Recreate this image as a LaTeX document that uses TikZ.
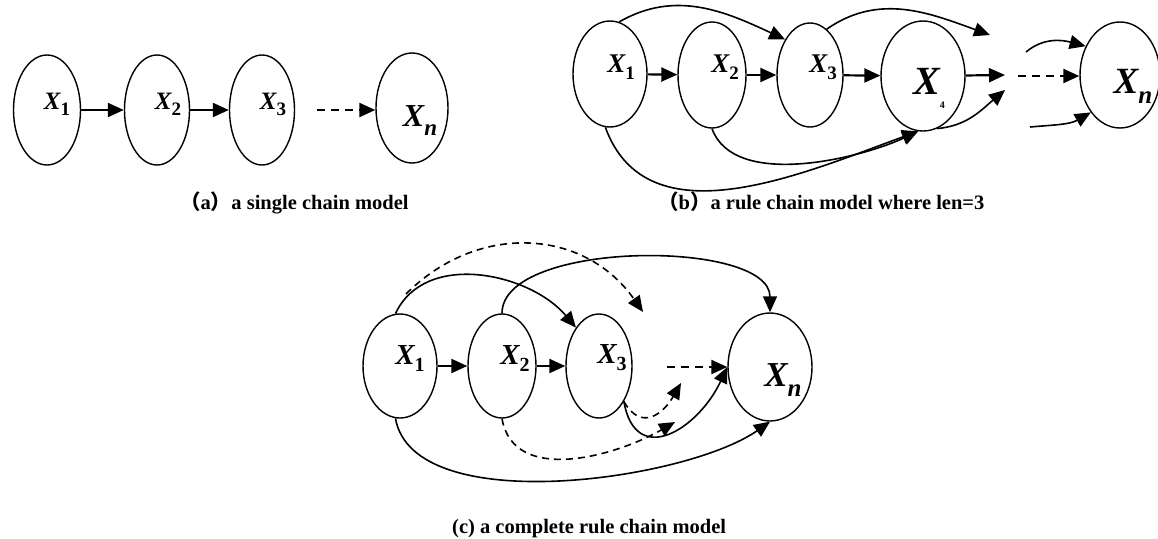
\documentclass[tikz,border=0pt]{standalone}
\usepackage{fontspec}
\setmainfont{Liberation Serif}
\newfontfamily\cjk{Noto Sans CJK SC}
\usetikzlibrary{arrows.meta,shapes.geometric}
\tikzset{
  var/.style={draw,ellipse,line width=1.4pt,inner sep=0pt},
  head/.style={-{Triangle[length=16pt,width=14pt]}},
  fwd/.style={head,line width=2.2pt},
  dfwd/.style={fwd,dash pattern=on 8pt off 6pt},
  jump/.style={head,line width=1.6pt},
  djump/.style={jump,dash pattern=on 7pt off 5pt},
  vlab/.style={inner sep=0pt},
  subcap/.style={anchor=base west,inner sep=0pt,font=\fontsize{20.5}{24}\selectfont\bfseries},
}
% X with a subscript: X size, subscript size, drop, subscript
\newcommand{\xvar}[4]{{\fontsize{#1}{#1}\selectfont\bfseries\itshape X}\raisebox{-#3}{\fontsize{#2}{#2}\selectfont\bfseries #4}}

\begin{document}
\begin{tikzpicture}[x=1pt,y=1pt]
  \useasboundingbox (0,0) rectangle (1158,-538);

  % (a) single chain
  \node[var,minimum width=67pt,minimum height=110pt] (a1) at (47,-110) {};
  \node[var,minimum width=65pt,minimum height=110pt] (a2) at (157,-110) {};
  \node[var,minimum width=65pt,minimum height=110pt] (a3) at (262,-110) {};
  \node[var,minimum width=72pt,minimum height=110pt] (an) at (412,-108) {};
  \node[vlab] (a1x) at ([shift={(10,6)}]a1) {\xvar{25}{19}{6pt}{1}};
  \node[vlab] (a2x) at ([shift={(11,6)}]a2) {\xvar{25}{19}{6pt}{2}};
  \node[vlab] (a3x) at ([shift={(11,6)}]a3) {\xvar{25}{19}{6pt}{3}};
  \node[vlab] (anx) at ([shift={(8,-13)}]an) {\xvar{32}{23}{9pt}{\itshape n}};
  \coordinate (a3d) at (317,-110);
  \draw[fwd] (a1) -- (a2);
  \draw[fwd] (a2) -- (a3);
  \draw[dfwd] (a3d) -- (a3d -| an.west);
  \node[subcap] (acap) at (180,-209) {{\cjk （}a{\cjk ）}a single chain model};

  % (b) rule chain, len=3
  \node[var,minimum width=74pt,minimum height=106pt] (b1) at (610,-74) {};
  \node[var,minimum width=68pt,minimum height=106pt] (b2) at (712,-75) {};
  \node[var,minimum width=66pt,minimum height=104pt] (b3) at (810,-75) {};
  \node[var,minimum width=84pt,minimum height=110pt] (b4) at (923,-76) {};
  \node[var,minimum width=80pt,minimum height=106pt] (bn) at (1120,-75) {};
  \node[vlab] (b1x) at ([shift={(11,7)}]b1) {\xvar{27}{19}{7pt}{1}};
  \node[vlab] (b2x) at ([shift={(13,8)}]b2) {\xvar{27}{19}{7pt}{2}};
  \node[vlab] (b3x) at ([shift={(13,8)}]b3) {\xvar{27}{19}{7pt}{3}};
  \node[vlab] (b4x) at ([shift={(6,-12)}]b4) {\xvar{40}{10}{14pt}{4}};
  \node[vlab] (bnx) at ([shift={(13,-11)}]bn) {\xvar{37}{25}{10pt}{\itshape n}};
  \coordinate (bq) at (1005,-75);
  \coordinate (bd) at (1018,-76);
  \coordinate (bt) at (990,-35);
  \coordinate (bu) at (1026,-52);
  \coordinate (bl) at (1030,-127);
  \coordinate (bv) at (1005,-90);
  \draw[fwd] (b1) -- (b2);
  \draw[fwd] (b2) -- (b3);
  \draw[fwd] (b3) -- (b4);
  \draw[fwd] (b4) -- (bq);
  \draw[dfwd] (bd) -- (bd -| bn.west);
  \draw[jump] (b1.80) to[out=30,in=155] (b3.125);
  \draw[jump] (b3.70) to[out=35,in=160] (bt);
  \draw[jump] (b4.285) to[out=5,in=220] (bv);
  \draw[jump] (bu) to[out=40,in=165] (bn.140);
  \draw[jump] (bl) to[out=5,in=210] (bn.232);
  \draw[jump] (b2.south) to[out=-70,in=205,looseness=0.8] (b4.265);
  \draw[jump] (b1.265) to[out=-70,in=200] (b4.265);
  \node[subcap] (bcap) at (658,-209) {{\cjk （}b{\cjk ）}a rule chain model where len=3};

  % (c) complete rule chain
  \node[var,minimum width=74pt,minimum height=104pt] (c1) at (400,-366) {};
  \node[var,minimum width=68pt,minimum height=104pt] (c2) at (502,-366) {};
  \node[var,minimum width=66pt,minimum height=104pt] (c3) at (599,-366) {};
  \node[var,minimum width=84pt,minimum height=108pt] (cn) at (770,-367) {};
  \node[vlab] (c1x) at ([shift={(10,8)}]c1) {\xvar{29}{20}{7pt}{1}};
  \node[vlab] (c2x) at ([shift={(13,8)}]c2) {\xvar{29}{20}{7pt}{2}};
  \node[vlab] (c3x) at ([shift={(13,8)}]c3) {\xvar{29}{20}{7pt}{3}};
  \node[vlab] (cnx) at ([shift={(13,-13)}]cn) {\xvar{35}{25}{10pt}{\itshape n}};
  \coordinate (cd) at (667,-367);
  \coordinate (cs) at (406,-294);
  \coordinate (ct) at (643,-312);
  \coordinate (cw) at (681,-383);
  \coordinate (cz) at (675,-422);
  \draw[fwd] (c1) -- (c2);
  \draw[fwd] (c2) -- (c3);
  \draw[dfwd] (cd) -- (cd -| cn.west);
  % jumps over the chain
  \draw[jump] (c1.95) to[out=65,in=130] (c3.121);
  \draw[djump] (cs) to[out=45,in=125,looseness=1.1] (ct);
  \draw[jump] (c2.north) to[out=90,in=90,looseness=0.7] (cn.north);
  % jumps under the chain
  \draw[jump] (c3.305) to[out=-80,in=245,looseness=1.6] (cn.west);
  \draw[djump] (c3.305) to[out=-60,in=240,looseness=1.5] (cw);
  \draw[djump] (c2.south) to[out=-80,in=210] (cz);
  \draw[jump] (c1.265) to[out=-80,in=215,looseness=0.7] (cn.south);
  \node[subcap] (ccap) at (452,-533) {(c) a complete rule chain model};
\end{tikzpicture}
\end{document}
